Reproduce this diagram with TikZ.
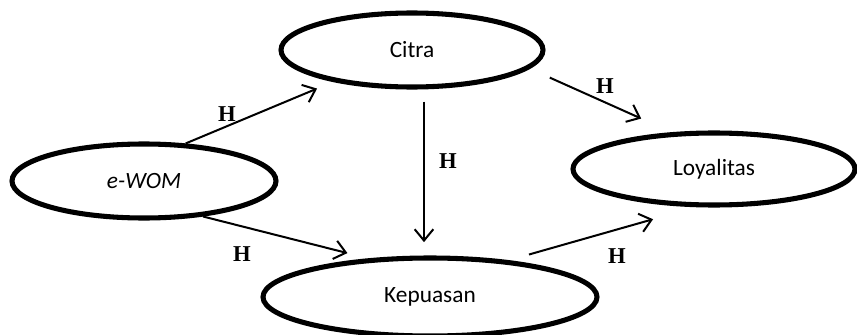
\documentclass[tikz,border=0pt]{standalone}
\usepackage{fontspec}
\setmainfont{Carlito}
\newfontfamily\hypfont{Liberation Serif}
\usetikzlibrary{shapes,arrows.meta,calc}

\begin{document}
\begin{tikzpicture}[
    x=0.75pt, y=-0.75pt,
    every node/.style={font=\fontsize{17.5}{20}\selectfont},
    var/.style={ellipse, draw, line width=3.8pt, inner sep=0pt},
    hyp/.style={font=\hypfont\bfseries\fontsize{17}{17}\selectfont},
    link/.style={-{Straight Barb[length=8.5pt,width=14pt]}, line width=1.5pt}
]
\useasboundingbox (0,0) rectangle (857,335);

\node[var, minimum width=196.5pt, minimum height=55.5pt] (citra) at (412,50) {Citra};
\node[var, minimum width=198pt, minimum height=55.5pt] (ewom) at (144,181) {\textit{e-WOM}};
\node[var, minimum width=211.5pt, minimum height=54pt] (loyal) at (714,169) {Loyalitas};
\node[var, minimum width=250.5pt, minimum height=58.5pt] (puas) at (430,297) {Kepuasan};

\draw[link, shorten >=13pt] (ewom.42) -- (citra.202);
\draw[link, shorten <=16.5pt, shorten >=25pt] (citra.-9.5) -- (loyal.139.3);
\draw[link, shorten <=9pt, shorten >=10pt] ([xshift=9pt]citra.south) -- ([xshift=-4.5pt]puas.north);
\draw[link, shorten >=16pt] (ewom.-31.3) -- (puas.148.3);
\draw[link, shorten <=15.7pt, shorten >=33pt] (puas.25.6) -- (loyal.244.5);

\node[hyp] (h1) at (227,114) {H};
\node[hyp] (h2) at (448,161) {H};
\node[hyp] (h3) at (605,86) {H};
\node[hyp] (h4) at (242,254) {H};
\node[hyp] (h5) at (617,256) {H};
\end{tikzpicture}
\end{document}
